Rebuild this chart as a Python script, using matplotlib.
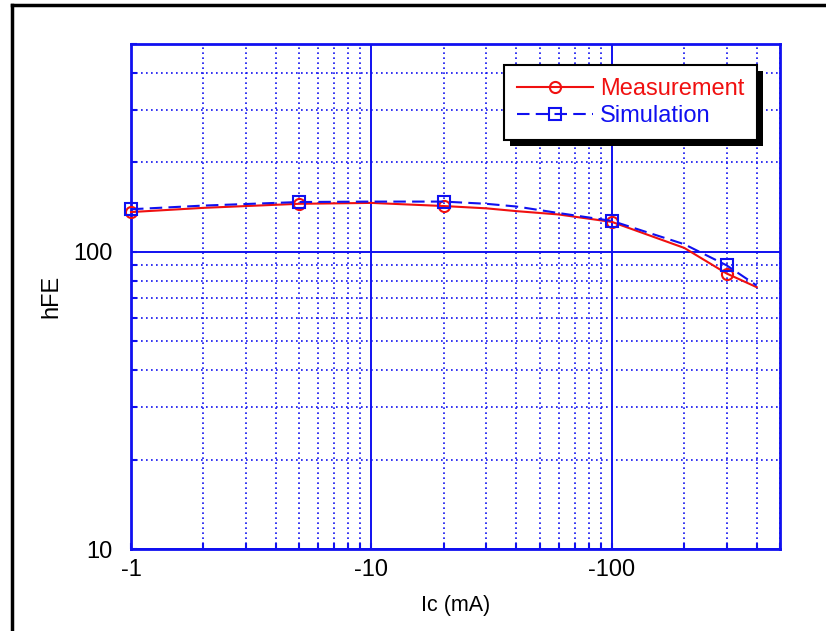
import matplotlib
matplotlib.use("Agg")
import matplotlib.pyplot as plt
from matplotlib.lines import Line2D
from matplotlib.patches import Rectangle
from matplotlib.transforms import IdentityTransform
import numpy as np

plt.rcParams['font.family'] = ['Liberation Sans', 'DejaVu Sans']

# |Ic| in mA (axis labels show the negative sign)
ic_meas = [1, 2, 5, 10, 20, 30, 40, 60, 100, 200, 300, 400]
hfe_meas = [136, 140.5, 145, 146, 142.5, 140, 137, 133.5, 126, 103, 84.5, 76]
ic_sim = [1, 2, 5, 10, 20, 30, 40, 60, 100, 200, 300, 400]
hfe_sim = [139, 143, 147, 147.5, 147.5, 145, 142, 135, 127, 106, 90, 77]
mark_idx = [0, 2, 4, 8, 10]   # points that carry a marker

xticks = [1, 10, 100]
xtick_labels = ['-1', '-10', '-100']
yticks = [10, 100]
ytick_labels = ['10', '100']

blue = '#1010f0'
red = '#f01010'

fig = plt.figure(figsize=(8.26, 6.31), dpi=100)
ax = fig.add_axes([131/826, 82/631, 649/826, 505/631])

ax.plot(ic_meas, hfe_meas, '-', color=red, lw=1.5, marker='o', markevery=mark_idx,
        ms=8, mfc='none', mec=red, mew=1.5, label='Measurement', zorder=3, clip_on=False)
ax.plot(ic_sim, hfe_sim, color=blue, lw=1.5, linestyle=(0, (6, 3)), marker='s',
        markevery=mark_idx, ms=9, mfc='none', mec=blue, mew=1.5, label='Simulation',
        zorder=4, clip_on=False)

ax.set_xscale('log')
ax.set_yscale('log')
ax.set_xlim(1, 500)
ax.set_ylim(10, 500)

ax.set_xticks(xticks)
ax.set_xticklabels(xtick_labels)
ax.set_yticks(yticks)
ax.set_yticklabels(ytick_labels)
ax.xaxis.set_minor_formatter(plt.NullFormatter())
ax.yaxis.set_minor_formatter(plt.NullFormatter())

ax.grid(True, which='major', color=blue, lw=1.4, ls='-')
ax.grid(True, which='minor', color=blue, lw=1.2, ls=(0, (1, 2)))
ax.tick_params(which='both', direction='in', color=blue, length=4, width=1.5)
ax.tick_params(which='major', labelsize=17, pad=7)
ax.tick_params(axis='y', which='major', pad=13)
for sp in ax.spines.values():
    sp.set_color(blue)
    sp.set_linewidth(2)
ax.set_axisbelow(True)

ax.set_xlabel('Ic (mA)', fontsize=15.5, labelpad=10)
ax.set_ylabel('hFE', fontsize=17, labelpad=8)

leg = ax.legend(loc='upper right', bbox_to_anchor=(0.965, 0.958), borderaxespad=0,
                fontsize=17, frameon=True, fancybox=False, framealpha=1,
                handlelength=3.2, handletextpad=0.3, labelspacing=0.2, borderpad=0.55)
leg.get_frame().set_edgecolor('black')
leg.get_frame().set_facecolor('white')
leg.get_frame().set_linewidth(1.5)
leg.set_zorder(6)
for txt, c in zip(leg.get_texts(), [red, blue]):
    txt.set_color(c)

# solid black drop shadow under the legend box
fig.canvas.draw()
bb = leg.get_frame().get_window_extent()
shadow = Rectangle((bb.x0 + 6, bb.y0 - 6), bb.width, bb.height, transform=IdentityTransform(),
                   facecolor='black', edgecolor='none', zorder=5.9, clip_on=False)
ax.add_artist(shadow)

# black frame on the left and top of the picture
fig.add_artist(Line2D([12/826, 12/826], [0, 1 - 5/631], color='black', lw=2.5))
fig.add_artist(Line2D([12/826, 1], [1 - 5/631, 1 - 5/631], color='black', lw=2.5))

fig.savefig('out.png', dpi=100)
